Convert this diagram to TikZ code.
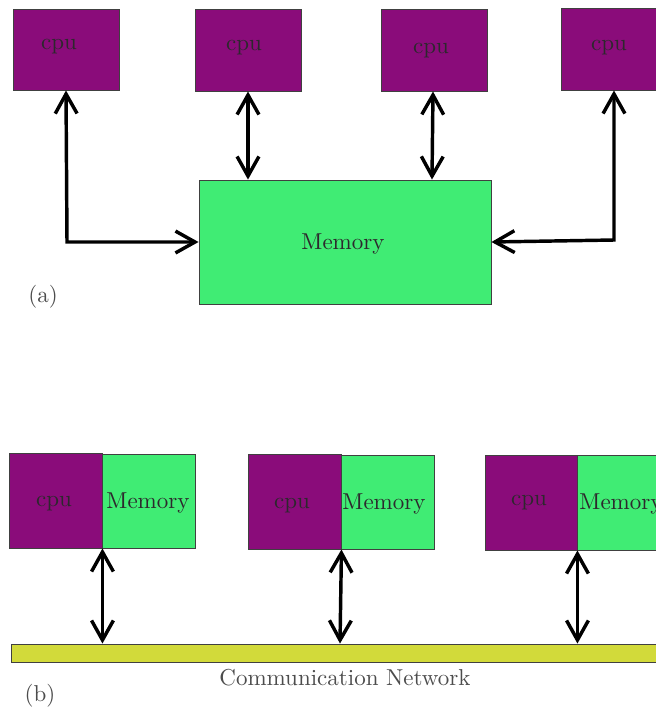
\documentclass[tikz,border=0pt]{standalone}
\usetikzlibrary{fit,arrows.meta}
\definecolor{cpupurple}{RGB}{138,12,122}
\definecolor{memgreen}{RGB}{64,236,116}
\definecolor{netyellow}{RGB}{210,218,58}
\definecolor{inkgray}{RGB}{45,40,45}
\tikzset{
  blk/.style={draw=black!75, line width=0.4pt, inner sep=0pt},
  cpubox/.style={blk, fill=cpupurple},
  membox/.style={blk, fill=memgreen},
  netbox/.style={blk, fill=netyellow},
  lbl/.style={text=inkgray, inner sep=0pt, anchor=center},
  tag/.style={text=black!70, inner sep=0pt, anchor=center},
  link/.style={line width=1.5pt, {Straight Barb[length=8.5pt,width=9.5pt,line width=1.5pt]}-{Straight Barb[length=8.5pt,width=9.5pt,line width=1.5pt]}}
}
\begin{document}
\begin{tikzpicture}[x=0.4348pt, y=-0.4348pt]
\useasboundingbox (0,0) rectangle (656,711);

% ---- (a) shared memory ----
\node[cpubox, fit={(13,9) (119,90)}] (c1) {};
\node[cpubox, fit={(195,9) (301,91)}] (c2) {};
\node[cpubox, fit={(381,9) (487,91)}] (c3) {};
\node[cpubox, fit={(561,8) (667,90)}] (c4) {};
\node[lbl] (t1) at (59,47) {cpu};
\node[lbl] (t2) at (244,48) {cpu};
\node[lbl] (t3) at (431,51) {cpu};
\node[lbl] (t4) at (609,48) {cpu};

\node[membox, fit={(199,180) (491,304)}] (mem) {};
\node[lbl] (tm) at (343,244) {Memory};

\coordinate (k1) at (67,242);
\coordinate (k4) at (614,240);
\draw[link] (c1.south -| 66,0) -- (k1) -- (mem.west |- k1);
\draw[link] (c2.south -| 248,0) -- (mem.north -| 248,0);
\draw[link] (c3.south -| 433,0) -- (mem.north -| 432,0);
\draw[link] (c4.south -| 614,0) -- (k4) -- (mem.east |- 0,242);

\node[tag] (ta) at (43,297) {(a)};

% ---- (b) distributed memory ----
\node[cpubox, fit={(9,453) (102,548)}] (p1) {};
\node[membox, fit={(102,454) (195,548)}] (m1) {};
\node[cpubox, fit={(248,454) (341,549)}] (p2) {};
\node[membox, fit={(341,455) (434,549)}] (m2) {};
\node[cpubox, fit={(485,455) (577,550)}] (p3) {};
\node[membox, fit={(577,455) (670,550)}] (m3) {};
\node[lbl] (tp1) at (54,504) {cpu};
\node[lbl] (tm1) at (148,503) {Memory};
\node[lbl] (tp2) at (292,506) {cpu};
\node[lbl] (tm2) at (384,504) {Memory};
\node[lbl] (tp3) at (529,503) {cpu};
\node[lbl] (tm3) at (621,504) {Memory};

\node[netbox, fit={(11,644) (670,662)}] (net) {};
\node[tag] (tn) at (345,678) {Communication Network};

\draw[link] (p1.south east) -- (net.north -| p1.south east);
\draw[link] (p2.south east) -- (net.north -| 340,0);
\draw[link] (p3.south east) -- (net.north -| p3.south east);

\node[tag] (tb) at (40,696) {(b)};
\end{tikzpicture}
\end{document}
